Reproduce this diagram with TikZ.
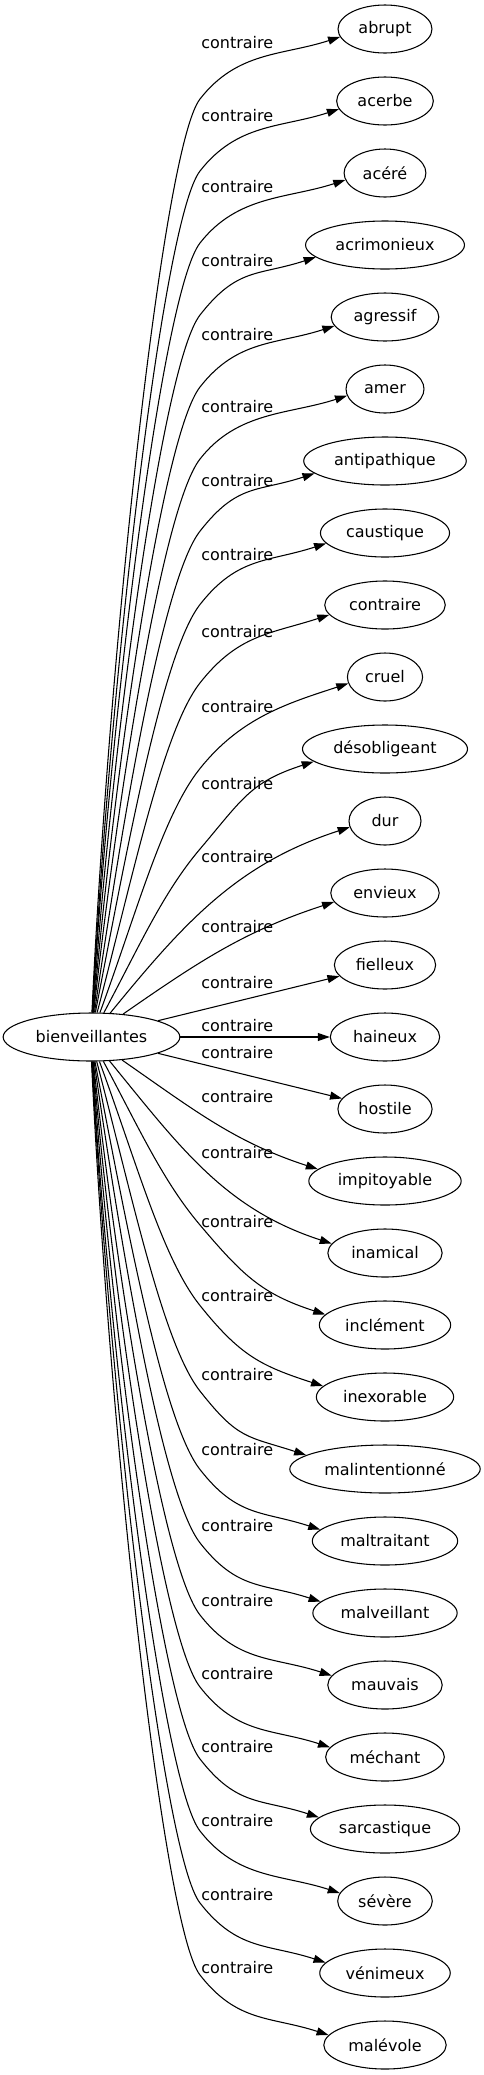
\documentclass[tikz,border=0pt]{standalone}
\usepackage{fontspec}
\setmainfont{DejaVu Sans}
\usetikzlibrary{arrows.meta,shapes.geometric}
\newcommand{\wordfont}{\fontsize{12pt}{14pt}\selectfont}
\tikzset{
  word/.style={ellipse, draw, line width=0.8pt,
    minimum width=54pt, minimum height=36pt,
    inner xsep=5pt, inner ysep=2pt, font=\wordfont},
  rellabel/.style={font=\wordfont, inner sep=0pt, anchor=west},
  relarrow/.style={-{Triangle[length=9pt,width=6pt]}, line width=0.8pt},
}
\begin{document}
\begin{tikzpicture}[x=0.75pt, y=0.75pt]
\useasboundingbox (0,0) rectangle (483,-2075);

% the source word, halfway down on the left
\node[word] (src) at (91.5,-1037) {bienveillantes};

% one ellipse per opposite word, with its label and its edge
\foreach \w/\yl [count=\i from 0] in {abrupt/43, acerbe/116, acéré/187,
    acrimonieux/261, agressif/335, amer/407, antipathique/481,
    caustique/555, contraire/632, cruel/707, désobligeant/784, dur/857,
    envieux/927, fielleux/983, haineux/1026, hostile/1053,
    impitoyable/1097, inamical/1153, inclément/1222, inexorable/1296,
    malintentionné/1375, maltraitant/1450, malveillant/1526,
    mauvais/1601, méchant/1674, sarcastique/1747, sévère/1821,
    vénimeux/1895, malévole/1968}{
  \pgfmathsetmacro\yt{29+72*\i}
  \pgfmathtruncatemacro\rk{\i-14}
  \pgfmathtruncatemacro\nd{abs(\rk)}
  \node[word] (t\i) at (385,-\yt) {\w};
  \node[rellabel] (l\i) at (201,-\yl) {contraire};
  \ifnum\nd<2
    \draw[relarrow] (src) -- (t\i);
  \else
    \pgfmathsetmacro\sgn{\rk<0 ? 1 : -1}
    \pgfmathsetmacro\sang{90-76*0.7^(\nd-1)}
    \pgfmathsetmacro\sanc{\sgn>0 ? \sang : 360-\sang}
    \pgfmathsetmacro\sout{\sgn*(\sang-2)}
    \pgfmathsetmacro\inT{180+\sgn*18}
    \pgfmathsetmacro\tanc{180+\sgn*10}
    \ifnum\nd<4
      % near neighbours: one smooth arc
      \draw[relarrow] (src.\sanc) to[out=\sout, in=\inT] (t\i.\tanc);
    \else
      % far ones: climb steeply, bend at x=200, then run to the word
      \pgfmathsetmacro\rr{1/sqrt((cos(\sang)/86.5)^2+(sin(\sang)/24)^2)}
      \pgfmathsetmacro\drop{70+30*exp(-(\nd-4)*(\nd-4)/3)}
      \pgfmathsetmacro\bend{52-25*exp(-(\nd-2)*1.2)}
      \pgfmathsetmacro\yb{\yt+\sgn*\drop}
      \pgfmathsetmacro\dlen{veclen(108.5-\rr*cos(\sang),abs(\yb-1037)-\rr*sin(\sang))}
      \pgfmathsetmacro\dOne{0.75*0.4*\dlen}
      \pgfmathsetmacro\dTwo{0.75*min(60,0.3*\dlen)}
      \pgfmathsetmacro\dThree{0.75*0.4*veclen(140,\drop-10)}
      \pgfmathsetmacro\inB{180+\sgn*\bend}
      \pgfmathsetmacro\outB{\sgn*\bend}
      \coordinate (b\i) at (200,-\yb);
      \draw[relarrow] (src.\sanc)
        to[out=\sout, in=\inB, out distance=\dOne pt, in distance=\dTwo pt] (b\i)
        to[out=\outB, in=\inT, out distance=\dThree pt, in distance=\dThree pt] (t\i.\tanc);
    \fi
  \fi
}
\end{tikzpicture}
\end{document}
